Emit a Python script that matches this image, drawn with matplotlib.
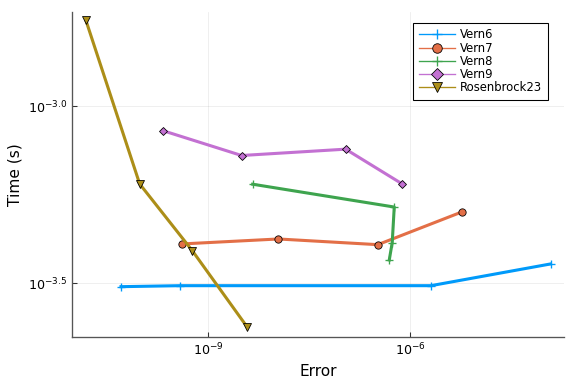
import matplotlib
matplotlib.use("Agg")
import matplotlib.pyplot as plt

# work-precision data (error, time in s)
names = ["Vern6", "Vern7", "Vern8", "Vern9", "Rosenbrock23"]
colors = ["#009AFA", "#E36F47", "#3EA44E", "#C371D2", "#AC8E18"]
markers = ["+", "o", "+", "D", "v"]

vern6_err = [5.05e-11, 3.80e-10, 2.04e-6, 1.22e-4]
vern6_time = [3.093e-4, 3.113e-4, 3.113e-4, 3.585e-4]

vern7_err = [4.06e-10, 1.10e-8, 3.31e-7, 5.89e-6]
vern7_time = [4.083e-4, 4.217e-4, 4.064e-4, 5.028e-4]

vern8_err = [4.57e-9, 5.81e-7, 5.42e-7, 4.90e-7]
vern8_time = [6.02e-4, 5.19e-4, 4.12e-4, 3.68e-4]

vern9_err = [2.10e-10, 3.13e-9, 1.10e-7, 7.64e-7]
vern9_time = [8.53e-4, 7.255e-4, 7.56e-4, 6.03e-4]

rosen_err = [1.52e-11, 9.57e-11, 5.78e-10, 3.76e-9]
rosen_time = [1.746e-3, 6.03e-4, 3.91e-4, 2.384e-4]

errs = [vern6_err, vern7_err, vern8_err, vern9_err, rosen_err]
times = [vern6_time, vern7_time, vern8_time, vern9_time, rosen_time]

xticks = [1e-9, 1e-6]
xticklabels = [r"$10^{-9}$", r"$10^{-6}$"]
yticks = [10 ** -3.5, 10 ** -3.0]
yticklabels = [r"$10^{-3.5}$", r"$10^{-3.0}$"]

fig = plt.figure(figsize=(6, 4), dpi=96)
ax = fig.add_axes([0.125, 0.1224, 0.854, 0.8466])

for i in range(len(names)):
    if markers[i] == "+":
        ax.plot(errs[i], times[i], color=colors[i], lw=2.3, marker="+",
                ms=6, mew=1.0, label=names[i])
    else:
        ax.plot(errs[i], times[i], color=colors[i], lw=2.3, marker=markers[i],
                ms=5.5 if markers[i] != "D" else 4.5, mec="black", mew=0.6,
                label=names[i])

ax.set_xscale("log")
ax.set_yscale("log")
ax.set_xlim(9.44e-12, 1.93e-4)
ax.set_ylim(2.23e-4, 1.845e-3)
ax.minorticks_off()
ax.set_xticks(xticks)
ax.set_xticklabels(xticklabels)
ax.set_yticks(yticks)
ax.set_yticklabels(yticklabels)
ax.tick_params(direction="in", labelsize=9.5, length=4, color="#333333")
ax.grid(True, color="black", alpha=0.08, lw=0.6)

for s in ["top", "right"]:
    ax.spines[s].set_visible(False)
for s in ["left", "bottom"]:
    ax.spines[s].set_color("#555555")
    ax.spines[s].set_linewidth(1.0)

ax.set_xlabel("Error", fontsize=11.5)
ax.set_ylabel("Time (s)", fontsize=11.5)

leg = ax.legend(loc="upper right", bbox_to_anchor=(0.967, 0.967), borderaxespad=0,
                fontsize=8.7, fancybox=False, framealpha=1, edgecolor="black",
                handlelength=3.1, labelspacing=0.02, borderpad=0.5,
                markerscale=1.3, handletextpad=0.4)
leg.get_frame().set_linewidth(0.8)
for line in leg.get_lines():
    line.set_linewidth(1.0)

fig.savefig("out.png", dpi=96)
